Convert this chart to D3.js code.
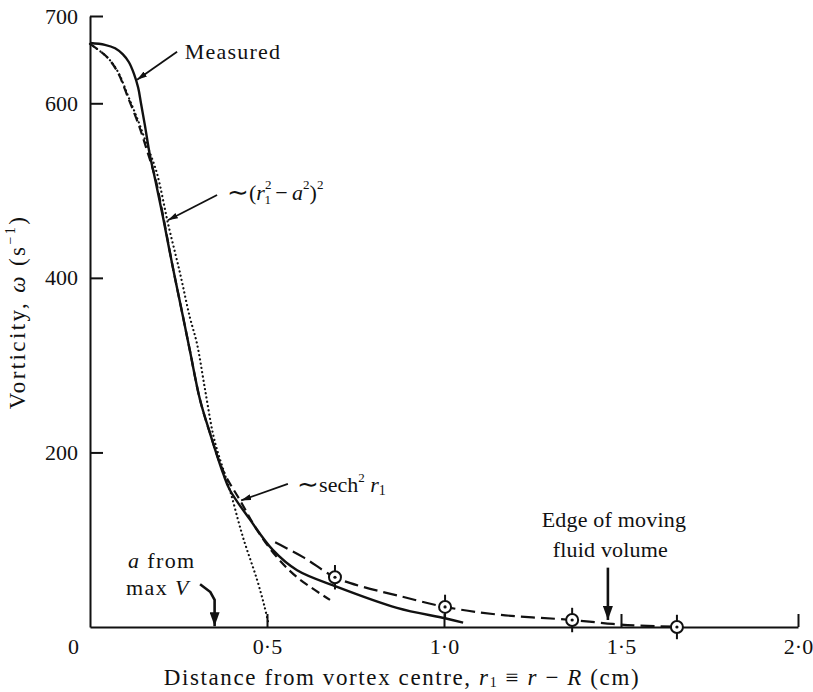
<!DOCTYPE html>
<html>
<head>
<meta charset="utf-8">
<script src="https://cdn.jsdelivr.net/npm/d3@7"></script>
<style>
  body { margin: 0; background: #fff; }
  text { font-family: "Liberation Serif", "Times New Roman", serif; fill: #111; }
</style>
</head>
<body>
<svg id="chart" width="813" height="692"></svg>
<script>
// Axis ticks
const xTickValues = [0, 0.5, 1.0, 1.5, 2.0];
const xTickLabels = ["0", "0·5", "1·0", "1·5", "2·0"];
const yTickValues = [200, 400, 600, 700];

// Measured vorticity profile (solid)
const measuredR = [0, 0.042, 0.071, 0.093, 0.110, 0.124, 0.136, 0.144, 0.155, 0.169, 0.184, 0.206, 0.234, 0.263, 0.282, 0.311, 0.339, 0.376, 0.395, 0.452, 0.517, 0.585, 0.698, 0.867, 1.003, 1.054];
const measuredW = [669, 667, 663, 656, 647, 634, 618, 600, 575, 541, 513, 470, 412, 355, 317, 260, 222, 176, 157, 123, 88, 65, 46, 22, 10, 5];

// ~sech^2 r1 fit (dashed)
const sechR = [0, 0.048, 0.079, 0.107, 0.136, 0.161, 0.184, 0.206, 0.234, 0.263, 0.282, 0.311, 0.339, 0.376, 0.424, 0.472, 0.528, 0.585, 0.678];
const sechW = [668, 653, 635, 607, 577, 546, 515, 472, 412, 355, 317, 260, 222, 179, 145, 111, 80, 57, 31];

// ~(r1^2 - a^2)^2 fit (dotted)
const polyR = [0, 0.048, 0.079, 0.107, 0.136, 0.161, 0.189, 0.220, 0.254, 0.282, 0.302, 0.325, 0.347, 0.362, 0.395, 0.432, 0.472, 0.492, 0.503];
const polyW = [668, 653, 636, 609, 580, 552, 520, 463, 406, 355, 325, 272, 222, 199, 157, 103, 54, 25, 6];

// Outer profile (long dashes) with measured points
const outerR = [0.523, 0.602, 0.692, 0.771, 0.870, 1.003, 1.158, 1.362, 1.477, 1.554, 1.658];
const outerW = [97, 80, 57, 46, 36, 23, 14, 8, 3.5, 1.5, 0.3];
const pointR = [0.692, 1.003, 1.362, 1.658];
const pointW = [57, 23, 8, 0];
const pointErr = [14, 14, 14, 14];

const FS = 22;
const svg = d3.select("#chart");
const x = d3.scaleLinear().domain([0, 2]).range([90, 798]);
const y = d3.scaleLinear().domain([0, 700]).range([627, 16]);

// Axes with inward ticks
const yAxis = svg.append("g").attr("transform", `translate(${x(0)},0)`)
  .call(d3.axisLeft(y).tickValues(yTickValues).tickSizeInner(-13).tickSizeOuter(0).tickPadding(12));
const xAxis = svg.append("g").attr("transform", `translate(0,${y(0)})`)
  .call(d3.axisBottom(x).tickValues(xTickValues).tickFormat((d, i) => xTickLabels[i])
    .tickSizeInner(-13).tickSizeOuter(0).tickPadding(11));
[yAxis, xAxis].forEach(g => {
  g.selectAll("path, line").attr("stroke", "#111").attr("stroke-width", 2);
  g.selectAll("text").attr("font-size", FS).attr("font-family", "Liberation Serif, serif").attr("fill", "#111");
});
xAxis.selectAll(".tick").filter(d => d === 0).select("line").remove();
xAxis.selectAll(".tick").filter(d => d === 0).select("text").attr("dx", -17);

const line = d3.line().curve(d3.curveCatmullRom.alpha(0.5)).x(d => x(d[0])).y(d => y(d[1]));
const zip = (a, b) => a.map((v, i) => [v, b[i]]);

// Curves
svg.append("path").datum(zip(polyR, polyW)).attr("d", line)
  .attr("fill", "none").attr("stroke", "#111").attr("stroke-width", 2.2)
  .attr("stroke-linecap", "round").attr("stroke-dasharray", "0.1,4.2");
svg.append("path").datum(zip(sechR, sechW)).attr("d", line)
  .attr("fill", "none").attr("stroke", "#111").attr("stroke-width", 2.2).attr("stroke-dasharray", "9,5");
svg.append("path").datum(zip(measuredR, measuredW)).attr("d", line)
  .attr("fill", "none").attr("stroke", "#111").attr("stroke-width", 2.4);
svg.append("path").datum(zip(outerR, outerW)).attr("d", line)
  .attr("fill", "none").attr("stroke", "#111").attr("stroke-width", 2.2).attr("stroke-dasharray", "14,6");

// Measured points with error bars
const pts = pointR.map((r, i) => ({ r, w: pointW[i], e: pointErr[i] }));
const pg = svg.append("g").selectAll("g").data(pts).join("g");
pg.append("line").attr("x1", d => x(d.r)).attr("x2", d => x(d.r))
  .attr("y1", d => y(d.w + d.e)).attr("y2", d => y(d.w - d.e))
  .attr("stroke", "#111").attr("stroke-width", 2);
pg.append("circle").attr("cx", d => x(d.r)).attr("cy", d => y(d.w)).attr("r", 6)
  .attr("fill", "#fff").attr("stroke", "#111").attr("stroke-width", 2);
pg.append("circle").attr("cx", d => x(d.r)).attr("cy", d => y(d.w)).attr("r", 1.6).attr("fill", "#111");

// Arrowheads
const defs = svg.append("defs");
defs.append("marker").attr("id", "headS").attr("viewBox", "0 0 10 6").attr("refX", 10).attr("refY", 3)
  .attr("markerWidth", 10).attr("markerHeight", 6).attr("markerUnits", "userSpaceOnUse").attr("orient", "auto")
  .append("path").attr("d", "M0,0 L10,3 L0,6 Z").attr("fill", "#111");
defs.append("marker").attr("id", "headL").attr("viewBox", "0 0 14 10").attr("refX", 14).attr("refY", 5)
  .attr("markerWidth", 14).attr("markerHeight", 10).attr("markerUnits", "userSpaceOnUse").attr("orient", "auto")
  .append("path").attr("d", "M0,0 L14,5 L0,10 Z").attr("fill", "#111");

const arrow = (pts, head, w) => svg.append("path")
  .attr("d", d3.line().x(d => x(d[0])).y(d => y(d[1]))(pts))
  .attr("fill", "none").attr("stroke", "#111").attr("stroke-width", w).attr("marker-end", `url(#${head})`);

arrow([[0.246, 659], [0.133, 627]], "headS", 1.8);
arrow([[0.359, 495], [0.220, 466]], "headS", 1.8);
arrow([[0.559, 164], [0.427, 145]], "headS", 1.8);
arrow([[0.311, 49], [0.340, 40], [0.352, 31], [0.352, 1]], "headL", 2.6);
arrow([[1.463, 68], [1.463, 8]], "headL", 2.6);

// Annotation labels
const label = (r, w, anchor) => svg.append("text").attr("x", x(r)).attr("y", y(w))
  .attr("font-size", FS)
  .attr("text-anchor", anchor || "start").attr("dominant-baseline", "middle");

label(0.268, 657).attr("letter-spacing", 1.2).text("Measured");

const t1 = label(0.387, 495);
t1.append("tspan").attr("font-size", 26).text("∼");
t1.append("tspan").text("(");
t1.append("tspan").attr("font-style", "italic").text("r");
t1.append("tspan").attr("font-size", 13).attr("dy", -9).text("2");
t1.append("tspan").attr("font-size", 13).attr("dx", -7).attr("dy", 15).text("1");
t1.append("tspan").attr("dy", -6).text("\u2009−\u2009");
t1.append("tspan").attr("font-style", "italic").text("a");
t1.append("tspan").attr("font-size", 13).attr("dy", -9).text("2");
t1.append("tspan").attr("dy", 9).text(")");
t1.append("tspan").attr("font-size", 13).attr("dy", -9).text("2");

const t2 = label(0.585, 160);
t2.append("tspan").attr("font-size", 26).text("∼");
t2.append("tspan").text("sech");
t2.append("tspan").attr("font-size", 13).attr("dy", -8).text("2");
t2.append("tspan").attr("dy", 8).text(" ");
t2.append("tspan").attr("font-style", "italic").text("r");
t2.append("tspan").attr("font-size", 14).attr("dy", 5).text("1");

const t3 = label(0.107, 73).attr("letter-spacing", 1.4);
t3.append("tspan").attr("font-style", "italic").text("a");
t3.append("tspan").text(" from");
const t4 = label(0.102, 42).attr("letter-spacing", 1.4);
t4.append("tspan").text("max ");
t4.append("tspan").attr("font-style", "italic").text("V");

label(1.48, 120, "middle").attr("letter-spacing", 0.2).text("Edge of moving");
label(1.47, 86, "middle").attr("letter-spacing", 0.2).text("fluid volume");

// Axis titles
const xt = svg.append("text").attr("x", 402).attr("y", 680).attr("font-size", 23)
  .attr("letter-spacing", 1.6)
  .attr("text-anchor", "middle").attr("dominant-baseline", "middle");
xt.append("tspan").text("Distance from vortex centre, ");
xt.append("tspan").attr("font-style", "italic").text("r");
xt.append("tspan").attr("font-size", 14).attr("dy", 4).text("1");
xt.append("tspan").attr("dy", -4).text(" ≡ ");
xt.append("tspan").attr("font-style", "italic").text("r");
xt.append("tspan").text(" − ");
xt.append("tspan").attr("font-style", "italic").text("R");
xt.append("tspan").text(" (cm)");

const yt = svg.append("text").attr("transform", "translate(20,312) rotate(-90)").attr("font-size", 23)
  .attr("letter-spacing", 2.4)
  .attr("text-anchor", "middle").attr("dominant-baseline", "middle");
yt.append("tspan").text("Vorticity, ");
yt.append("tspan").attr("font-style", "italic").text("ω");
yt.append("tspan").text(" (s");
yt.append("tspan").attr("font-size", 14).attr("dy", -8).text("−1");
yt.append("tspan").attr("dy", 8).text(")");
</script>
</body>
</html>
